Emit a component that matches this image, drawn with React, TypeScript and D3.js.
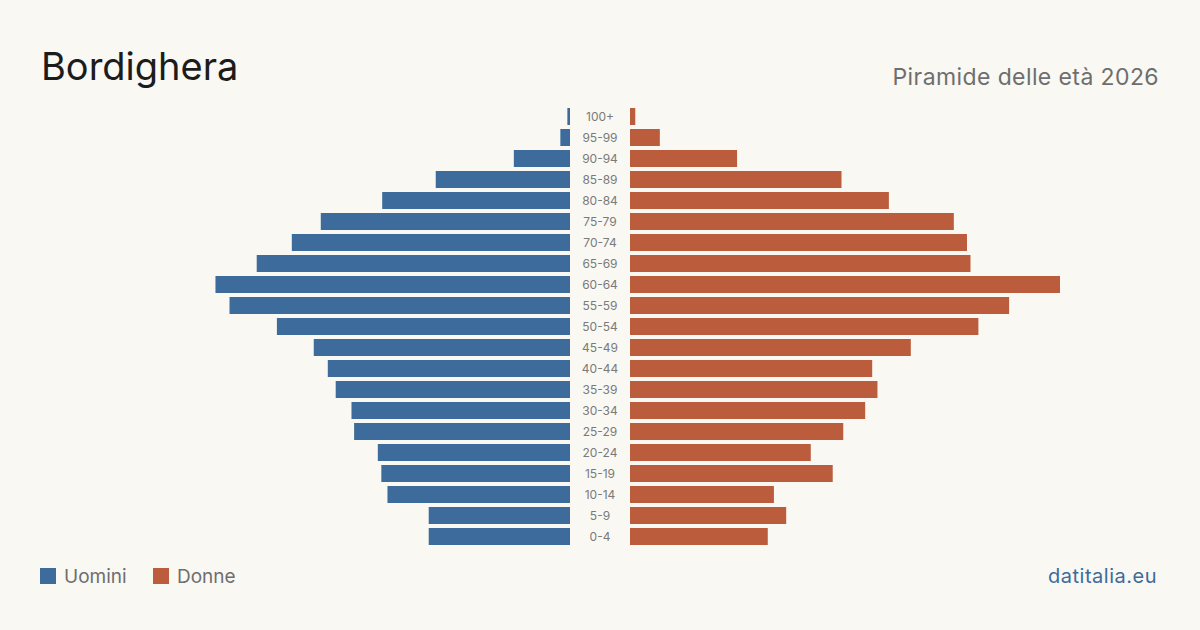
import React from "react";
import { scaleBand, scaleLinear } from "d3";

// age classes, oldest first (top of the pyramid)
const AGE_GROUPS = [
  "100+", "95-99", "90-94", "85-89", "80-84", "75-79", "70-74",
  "65-69", "60-64", "55-59", "50-54", "45-49", "40-44", "35-39",
  "30-34", "25-29", "20-24", "15-19", "10-14", "5-9", "0-4"
];

const MEN = [
  3, 11, 64, 153, 214, 284, 317, 357, 404, 388, 334, 292, 276,
  267, 249, 246, 219, 215, 208, 161, 161
];

const WOMEN = [
  6, 34, 122, 241, 295, 369, 384, 388, 490, 432, 397, 320, 276,
  282, 268, 243, 206, 231, 164, 178, 157
];

const TITLE = "Bordighera";
const SUBTITLE = "Piramide delle età 2026";
const LEGEND = ["Uomini", "Donne"];
const SOURCE = "datitalia.eu";

const W = 1200;
const H = 630;
const BLUE = "#3d6b9b";
const RED = "#bb5d3d";
const FONT = "Inter, 'Liberation Sans', sans-serif";

export default function App() {
  const maxVal = Math.max(...MEN, ...WOMEN);

  const CENTER = 600;
  const GAP = 30;

  const yScale = scaleBand<string>()
    .domain(AGE_GROUPS)
    .range([106, 547])
    .paddingInner(4 / 21)
    .paddingOuter(2 / 21);

  const xScale = scaleLinear().domain([0, maxVal]).range([0, 430]);

  return (
    <div style={{ position: "fixed", left: 0, top: 0, width: W, height: H }}>
      <svg width={W} height={H} style={{ display: "block" }}>
        <rect width={W} height={H} fill="#f9f8f3" />

        <text x={41} y={80} fontFamily={FONT} fontSize={38} fill="#1c1c1c">
          {TITLE}
        </text>
        <text
          x={1159}
          y={85}
          textAnchor="end"
          fontFamily={FONT}
          fontSize={23}
          letterSpacing={0.4}
          fill="#6e6e6e"
        >
          {SUBTITLE}
        </text>

        {AGE_GROUPS.map((g, i) => {
          const y = yScale(g)!;
          const bh = yScale.bandwidth();
          const wm = xScale(MEN[i]);
          const ww = xScale(WOMEN[i]);
          return (
            <g key={g}>
              <rect x={CENTER - GAP - wm} y={y} width={wm} height={bh} fill={BLUE} />
              <rect x={CENTER + GAP} y={y} width={ww} height={bh} fill={RED} />
              <text
                x={CENTER}
                y={y + bh / 2}
                dy="0.35em"
                textAnchor="middle"
                fontFamily={FONT}
                fontSize={12}
                fill="#7a7a7a"
              >
                {g}
              </text>
            </g>
          );
        })}

        {/* legend */}
        <g fontFamily={FONT} fontSize={19} fill="#6e6e6e">
          <rect x={40} y={568} width={16} height={16} fill={BLUE} />
          <text x={64} y={583}>{LEGEND[0]}</text>
          <rect x={153} y={568} width={16} height={16} fill={RED} />
          <text x={177} y={583}>{LEGEND[1]}</text>
        </g>

        <text
          x={1157}
          y={583}
          textAnchor="end"
          fontFamily={FONT}
          fontSize={20}
          letterSpacing={0.5}
          fill={BLUE}
        >
          {SOURCE}
        </text>
      </svg>
    </div>
  );
}
